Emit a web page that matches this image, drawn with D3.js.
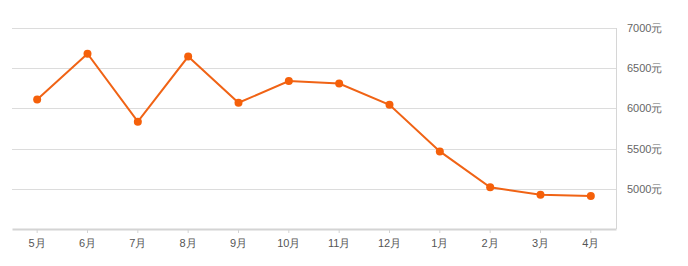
<!DOCTYPE html>
<html><head><meta charset="utf-8">
<script src="https://cdn.jsdelivr.net/npm/d3@7/dist/d3.min.js"></script>
<style>body{margin:0;background:#fff;}svg{display:block;font-family:"Open Sans","Noto Sans CJK SC",sans-serif;}</style>
</head><body>
<svg id="c" width="688" height="266"></svg>
<script>
const categories = ["5月","6月","7月","8月","9月","10月","11月","12月","1月","2月","3月","4月"];
const values = [6110, 6680, 5835, 6645, 6070, 6340, 6310, 6045, 5465, 5020, 4925, 4910];
const yTicks = [5000, 5500, 6000, 6500, 7000];
const yUnit = "元";

(function () {
const svg = d3.select("#c");
const mLeft = 12, mRight = 616, mTop = 28, mBottom = 229;
const x = d3.scaleBand().domain(categories).range([mLeft, mRight]);
const y = d3.scaleLinear().domain([4500, 7000]).range([mBottom, mTop]);

// grid
svg.append("g").selectAll("line").data(yTicks).join("line")
  .attr("x1", mLeft).attr("x2", mRight)
  .attr("y1", d => Math.round(y(d)) + 0.5).attr("y2", d => Math.round(y(d)) + 0.5)
  .attr("stroke", "#dcdcdc").attr("stroke-width", 1);

// right vertical line
svg.append("line").attr("x1", mRight + 0.5).attr("x2", mRight + 0.5)
  .attr("y1", mTop).attr("y2", mBottom).attr("stroke", "#d6d6d6");

// y labels
const yAxis = d3.axisRight(y).tickValues(yTicks).tickSize(0).tickPadding(0).tickFormat(d => d + yUnit);
const gy = svg.append("g").attr("transform", `translate(${mRight + 11},0)`).call(yAxis);
gy.select(".domain").remove();
gy.selectAll("text").attr("fill", "#666").style("font-size", "11px");

// x axis
const xAxis = d3.axisBottom(x).tickSize(4).tickPadding(6).tickSizeOuter(0);
const gx = svg.append("g").attr("transform", `translate(0,${mBottom})`).call(xAxis);
gx.select(".domain").attr("stroke", "#d4d4d4").attr("stroke-width", 2);
gx.selectAll(".tick line").attr("stroke", "#d4d4d4");
gx.selectAll("text").attr("fill", "#555").style("font-size", "11px");

// line
const cx = d => x(d) + x.bandwidth() / 2;
const line = d3.line().x((d, i) => cx(categories[i])).y(d => y(d));
svg.append("path").datum(values).attr("d", line)
  .attr("fill", "none").attr("stroke", "#f06315").attr("stroke-width", 2);

svg.append("g").selectAll("circle").data(values).join("circle")
  .attr("cx", (d, i) => cx(categories[i])).attr("cy", d => y(d))
  .attr("r", 4).attr("fill", "#f5600a");
})();
</script>
</body></html>
